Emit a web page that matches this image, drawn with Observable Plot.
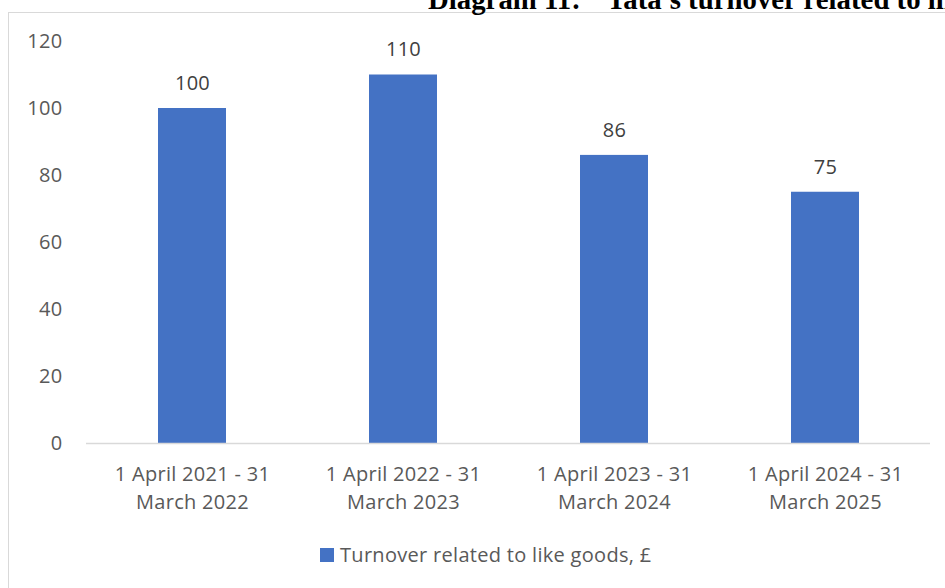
<!DOCTYPE html>
<html>
<head>
<meta charset="utf-8">
<script src="https://cdn.jsdelivr.net/npm/d3@7"></script>
<script src="https://cdn.jsdelivr.net/npm/@observablehq/plot@0.6"></script>
<style>
  html, body { margin: 0; padding: 0; background: #fff; }
  #wrap { position: relative; width: 945px; height: 588px; overflow: hidden; background: #fff; }
  #title { position: absolute; left: 428px; top: -15px; white-space: nowrap;
    font: bold 28.8px/28.8px "Liberation Serif", "Times New Roman", serif; color: #000; }
  #title .gap { display: inline-block; width: 26px; }
  #frame { position: absolute; left: 8px; top: 12px; width: 960px; height: 600px;
    border-top: 1.5px solid #d9d9d9; border-left: 1.5px solid #d9d9d9; box-sizing: border-box; }
  #chart { position: absolute; left: 0; top: 0; }
  #legend { position: absolute; left: 320px; top: 541px; display: flex; align-items: center;
    font: 20px "Open Sans", sans-serif; letter-spacing: 0.3px; color: #595959; white-space: nowrap; }
  #legend .sw { width: 14px; height: 14px; background: #4472C4; margin-right: 6px; }
</style>
</head>
<body>
<div id="wrap">
  <div id="frame"></div>
  <div id="title">Diagram 11:<span class="gap"></span>Tata's turnover related to like goods</div>
  <div id="chart"></div>
  <div id="legend"><span class="sw"></span><span id="legendText"></span></div>
</div>
<script>
const periods = [
  "1 April 2021 - 31\nMarch 2022",
  "1 April 2022 - 31\nMarch 2023",
  "1 April 2023 - 31\nMarch 2024",
  "1 April 2024 - 31\nMarch 2025"
];
const turnover = [100, 110, 86, 75];
const yTicks = [0, 20, 40, 60, 80, 100, 120];
const seriesName = "Turnover related to like goods, £";

const data = periods.map((p, i) => ({period: p, value: turnover[i]}));
document.getElementById("legendText").textContent = seriesName;

const chart = Plot.plot({
  width: 945,
  height: 588,
  marginLeft: 86,
  marginRight: 15,
  marginTop: 41,
  marginBottom: 145,
  style: {fontFamily: "'Open Sans', sans-serif", fontSize: "20px", color: "#595959", background: "transparent", letterSpacing: "0.3px"},
  x: {domain: periods, paddingInner: 0.68, paddingOuter: 0.34, label: null},
  y: {domain: [0, 120], label: null},
  marks: [
    Plot.axisY({ticks: yTicks, tickSize: 0, tickPadding: 24, fontSize: 20, fill: "#595959", label: null}),
    Plot.axisX({tickSize: 0, tickPadding: 18, fontSize: 20, fill: "#595959", lineHeight: 1.4, label: null}),
    Plot.barY(data, {x: "period", y: "value", fill: "#4472C4"}),
    Plot.ruleY([0], {stroke: "#d9d9d9", strokeWidth: 1.5}),
    Plot.text(data, {x: "period", y: "value", text: d => String(d.value), dy: -25, fontSize: 20, fill: "#404040"})
  ]
});
document.getElementById("chart").appendChild(chart);
</script>
</body>
</html>
